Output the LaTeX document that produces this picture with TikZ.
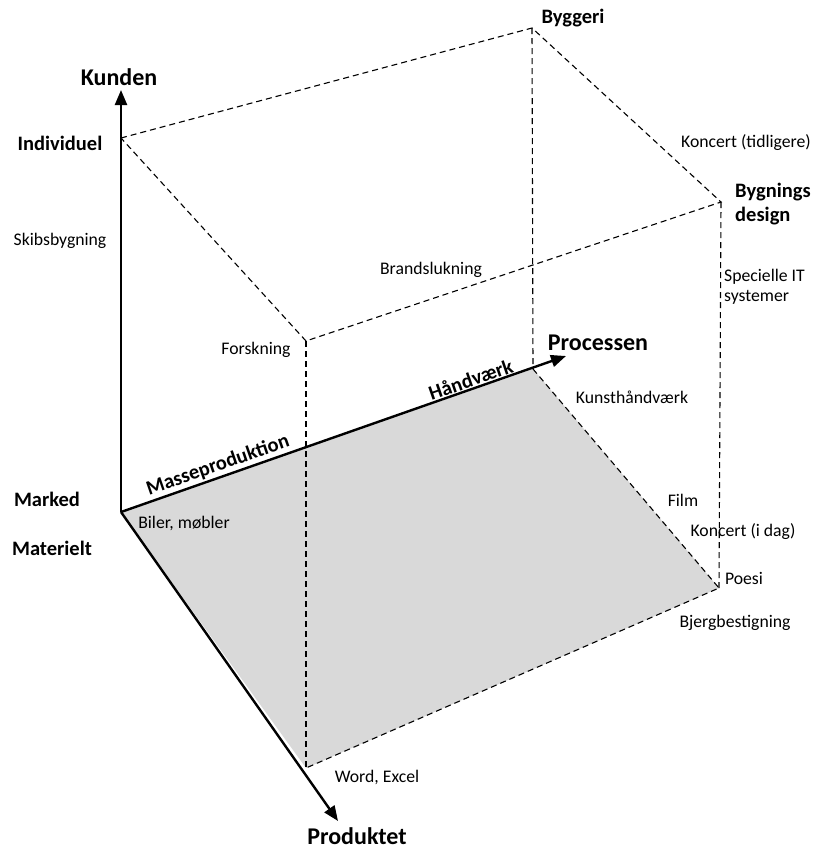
\documentclass[tikz,border=0pt]{standalone}
\usepackage{fontspec}
\setmainfont{Carlito}
\usetikzlibrary{arrows.meta}
\begin{document}
\begin{tikzpicture}[x=1pt,y=-1pt,
  axis/.style={line width=2.4pt,-{Triangle[length=15pt,width=12pt]}},
  edge/.style={line width=1.1pt,dash pattern=on 6pt off 4pt},
  lbl/.style={inner sep=0pt,font=\fontsize{17.7}{20}\selectfont},
  blbl/.style={inner sep=0pt,font=\fontsize{20.5}{24}\selectfont\bfseries},
  albl/.style={inner sep=0pt,font=\fontsize{24}{28}\selectfont\bfseries}]
\useasboundingbox (0,0) rectangle (814,849);
% corners of the box
\coordinate (O) at (121,512);
\coordinate (I) at (121,138);
\coordinate (P) at (533,369);
\coordinate (W) at (306,768);
\coordinate (Q) at (719,588);
\coordinate (F) at (306,341);
\coordinate (B) at (532,28);
\coordinate (D) at (721,202);
% axis ends
\coordinate (Kt) at (121,90);
\coordinate (Pt) at (566,356);
\coordinate (Rt) at (338,821);
% shaded floor
\fill[gray!30] (O) -- (P) -- (Q) -- (W) -- cycle;
% dashed edges
\draw[edge] (I) -- (B) -- (D) -- (F) -- cycle;
\draw[edge] (B) -- (P);
\draw[edge] (D) -- (Q);
\draw[edge] (F) -- (W);
\draw[edge] (P) -- (Q) -- (W);
% axes
\draw[axis] (O) -- (Kt);
\draw[axis] (O) -- (Pt);
\draw[axis] (O) -- (Rt);
% labels along the process axis
\path (O) -- (P)
  node[blbl,sloped,above,inner sep=3pt,pos=0.245] (masse) {Masseproduktion}
  node[blbl,sloped,above,inner sep=3pt,pos=0.857] (haandvaerk) {Håndværk};
% axis labels
\node[albl] (kunden) at (119,77) {Kunden};
\node[albl] (processen) at (598,343) {Processen};
\node[albl] (produktet) at (357,836) {Produktet};
% bold labels
\node[blbl] (individuel) at (60,143) {Individuel};
\node[blbl] (marked) at (47,499) {Marked};
\node[blbl] (materielt) at (52,548) {Materielt};
\node[blbl] (byggeri) at (573,18) {Byggeri};
\node[blbl,align=left,anchor=west] (bygdesign) at (735,204) {Bygnings\\design};
% examples
\node[lbl] (skib) at (60,241) {Skibsbygning};
\node[lbl] (forsk) at (256,350) {Forskning};
\node[lbl] (brand) at (431,270) {Brandslukning};
\node[lbl] (koncertt) at (746,143) {Koncert (tidligere)};
\node[lbl,align=left,anchor=west] (it) at (724,287) {Specielle IT\\systemer};
\node[lbl] (biler) at (184,523) {Biler, møbler};
\node[lbl] (kunst) at (632,397) {Kunsthåndværk};
\node[lbl] (film) at (683,500) {Film};
\node[lbl] (koncertd) at (743,532) {Koncert (i dag)};
\node[lbl] (poesi) at (744,578) {Poesi};
\node[lbl] (bjerg) at (735,623) {Bjergbestigning};
\node[lbl] (word) at (377,777) {Word, Excel};
\end{tikzpicture}
\end{document}
